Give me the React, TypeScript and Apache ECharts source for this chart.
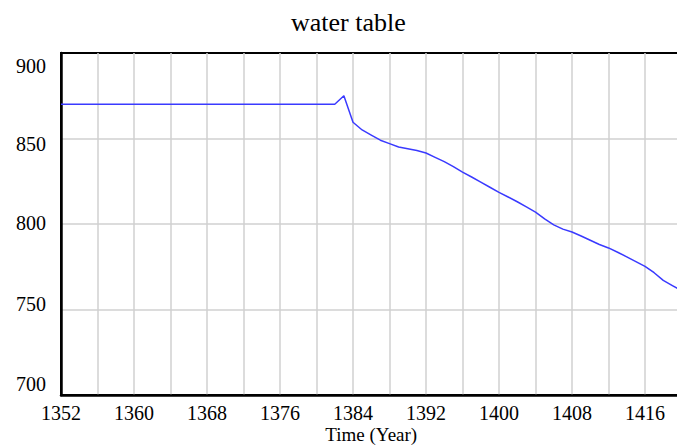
import React, { useEffect, useRef } from "react";
import * as echarts from "echarts";

const titleText = "water table";
const xAxisName = "Time (Year)";
const years: number[] = [];
for (let y = 1352; y <= 1420; y++) years.push(y);
const flatValues = Array(31).fill(870); // 1352..1382
const laterValues = [
  875, 859.5, 855, 852, 849, 847, 845, 844, 843, 841.5, 839, 836.5, 833.5, 830.3,
  827.5, 824.5, 821.5, 818.5, 815.8, 813, 810, 807, 803, 799.5, 797, 795.3, 793,
  790.5, 788, 786, 783.5, 780.8, 778, 775.2, 771.5, 767, 764, 761,
]; // 1383..1420
const waterTable = [...flatValues, ...laterValues];
const yTicks = [700, 750, 800, 850, 900];

export default function App() {
  const ref = useRef<HTMLDivElement>(null);
  useEffect(() => {
    if (!ref.current) return;
    const chart = echarts.init(ref.current, null, { renderer: "svg" });
    const font = "'Liberation Serif', 'Times New Roman', serif";
    chart.setOption({
      animation: false,
      title: {
        text: titleText,
        left: 291,
        top: 9,
        padding: 0,
        textStyle: { fontFamily: font, fontSize: 26, fontWeight: "normal", color: "#000" },
      },
      grid: {
        left: 61,
        top: 53,
        bottom: 51,
        right: -4.5,
        outerBoundsMode: "none",
        containLabel: false,
        show: true,
        borderColor: "#000",
        borderWidth: 2,
        backgroundColor: "transparent",
      },
      xAxis: {
        type: "value",
        min: 1352,
        max: 1420,
        interval: 4,
        name: xAxisName,
        nameLocation: "middle",
        nameGap: 30,
        nameMoveOverlap: false,
        nameTextStyle: { fontFamily: font, fontSize: 19, color: "#000", lineHeight: 19, padding: 0 },
        axisLine: { show: true, lineStyle: { color: "#000", width: 2.5 } },
        axisTick: { show: false },
        splitLine: { show: true, showMinLine: false, showMaxLine: false, lineStyle: { color: "#d0d0d0", width: 1.5 } },
        axisLabel: {
          margin: 8,
          fontFamily: font,
          fontSize: 20,
          color: "#000",
          showMinLabel: true,
          formatter: (v: number) => ((v - 1352) % 8 === 0 && v < 1420 ? String(v) : ""),
        },
      },
      yAxis: {
        type: "value",
        min: 700,
        max: 900,
        interval: 50,
        axisLine: { show: true, lineStyle: { color: "#000", width: 2.5 } },
        axisTick: { show: false },
        splitLine: { show: true, showMinLine: false, showMaxLine: false, lineStyle: { color: "#d0d0d0", width: 1.5 } },
        axisLabel: {
          margin: 15,
          fontFamily: font,
          fontSize: 20,
          color: "#000",
          showMinLabel: true,
          showMaxLabel: true,
          formatter: (v: number) => {
            const i = yTicks.indexOf(v);
            return i >= 0 ? `{s${i}|${v}}` : String(v);
          },
          rich: {
            s0: { fontFamily: font, fontSize: 20, padding: [0, 0, 22, 0] },
            s1: { fontFamily: font, fontSize: 20, padding: [0, 0, 12, 0] },
            s2: { fontFamily: font, fontSize: 20, padding: [0, 0, 2, 0] },
            s3: { fontFamily: font, fontSize: 20, padding: [10, 0, 0, 0] },
            s4: { fontFamily: font, fontSize: 20, padding: [26, 0, 0, 0] },
          },
        },
      },
      series: [
        {
          type: "line",
          data: years.map((y, i) => [y, waterTable[i]]),
          showSymbol: false,
          lineStyle: { color: "#3a3aff", width: 1.5 },
        },
      ],
    });
    return () => chart.dispose();
  }, []);
  return (
    <div
      ref={ref}
      style={{ position: "fixed", left: 0, top: 0, width: 677, height: 446, background: "#fff" }}
    />
  );
}
